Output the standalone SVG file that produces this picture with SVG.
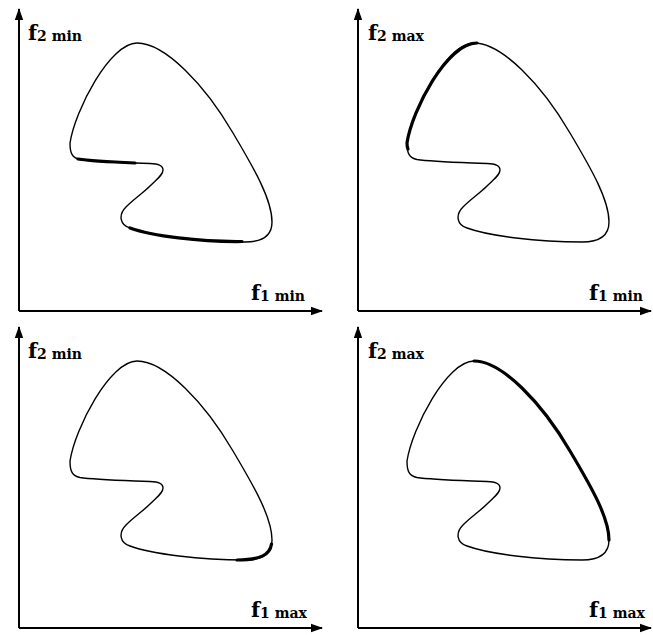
<svg xmlns="http://www.w3.org/2000/svg" xmlns:xlink="http://www.w3.org/1999/xlink" width="653" height="635" viewBox="0 0 653 635">
<style>
.ax{stroke:#000;stroke-width:2;fill:none}
.shape{stroke:#000;stroke-width:1.4;fill:none}
.hl{stroke:#000;stroke-width:3.2;fill:none;stroke-linecap:round}
.lbl{font-family:"DejaVu Serif","Liberation Serif",serif;font-weight:bold;font-size:21px;fill:#000}
.sub{font-size:14px}
</style>
<defs>
<marker id="arr" viewBox="0 0 12 10" refX="11" refY="5" markerWidth="12" markerHeight="10" markerUnits="userSpaceOnUse" orient="auto">
<path d="M0,0.8 L12,5 L0,9.2 Z" fill="#000"/>
</marker>
<path id="blob" d="M137,43 C165,43 205,85 233,133 C255,170 272,200 272,222 C272,236 262,242 245,242 C200,242 152,236 130,228 C120,225 118,215 126,207 C134,199 143,193 150,186 C157,179 163,175 163,170 C163,165 158,164 150,163.5 L135,163 C110,162 90,161 80,159.5 C72,158 70,153 70,143 C75,110 110,43 137,43 Z"/>
</defs>
<g id="connectors">
<line class="ax" x1="19" y1="311" x2="19" y2="9" marker-end="url(#arr)"/>
<line class="ax" x1="19" y1="311" x2="322" y2="311" marker-end="url(#arr)"/>
<line class="ax" x1="358" y1="311" x2="358" y2="9" marker-end="url(#arr)"/>
<line class="ax" x1="358" y1="311" x2="651" y2="311" marker-end="url(#arr)"/>
<line class="ax" x1="19" y1="628" x2="19" y2="327" marker-end="url(#arr)"/>
<line class="ax" x1="19" y1="628" x2="322" y2="628" marker-end="url(#arr)"/>
<line class="ax" x1="358" y1="628" x2="358" y2="327" marker-end="url(#arr)"/>
<line class="ax" x1="358" y1="628" x2="651" y2="628" marker-end="url(#arr)"/>
</g>
<g id="panel-tl">
<use xlink:href="#blob" class="shape"/>
<path class="hl" d="M135,163 C110,162 90,161 78,159"/>
<path class="hl" d="M242,241.5 C200,242 152,236 130,228"/>
<text class="lbl" x="28" y="40">f<tspan class="sub" dy="1">2 min</tspan></text>
<text class="lbl" x="251" y="300">f<tspan class="sub" dy="1">1 min</tspan></text>
</g>
<g id="panel-tr">
<use xlink:href="#blob" class="shape" transform="translate(337,0)"/>
<path class="hl" transform="translate(337,0)" d="M71,149 C70,147 70,145 70,143 C75,110 110,43 140,43"/>
<text class="lbl" x="368" y="40">f<tspan class="sub" dy="1">2 max</tspan></text>
<text class="lbl" x="589" y="300">f<tspan class="sub" dy="1">1 min</tspan></text>
</g>
<g id="panel-bl">
<use xlink:href="#blob" class="shape" transform="translate(0,318)"/>
<path class="hl" transform="translate(0,318)" d="M271.5,226 C270,237 260,242 237,242"/>
<text class="lbl" x="28" y="358">f<tspan class="sub" dy="1">2 min</tspan></text>
<text class="lbl" x="251" y="617">f<tspan class="sub" dy="1">1 max</tspan></text>
</g>
<g id="panel-br">
<use xlink:href="#blob" class="shape" transform="translate(337,318)"/>
<path class="hl" transform="translate(337,318)" d="M137,43 C165,43 205,85 233,133 C255,170 272,200 272,222"/>
<text class="lbl" x="368" y="358">f<tspan class="sub" dy="1">2 max</tspan></text>
<text class="lbl" x="589" y="617">f<tspan class="sub" dy="1">1 max</tspan></text>
</g>
</svg>
